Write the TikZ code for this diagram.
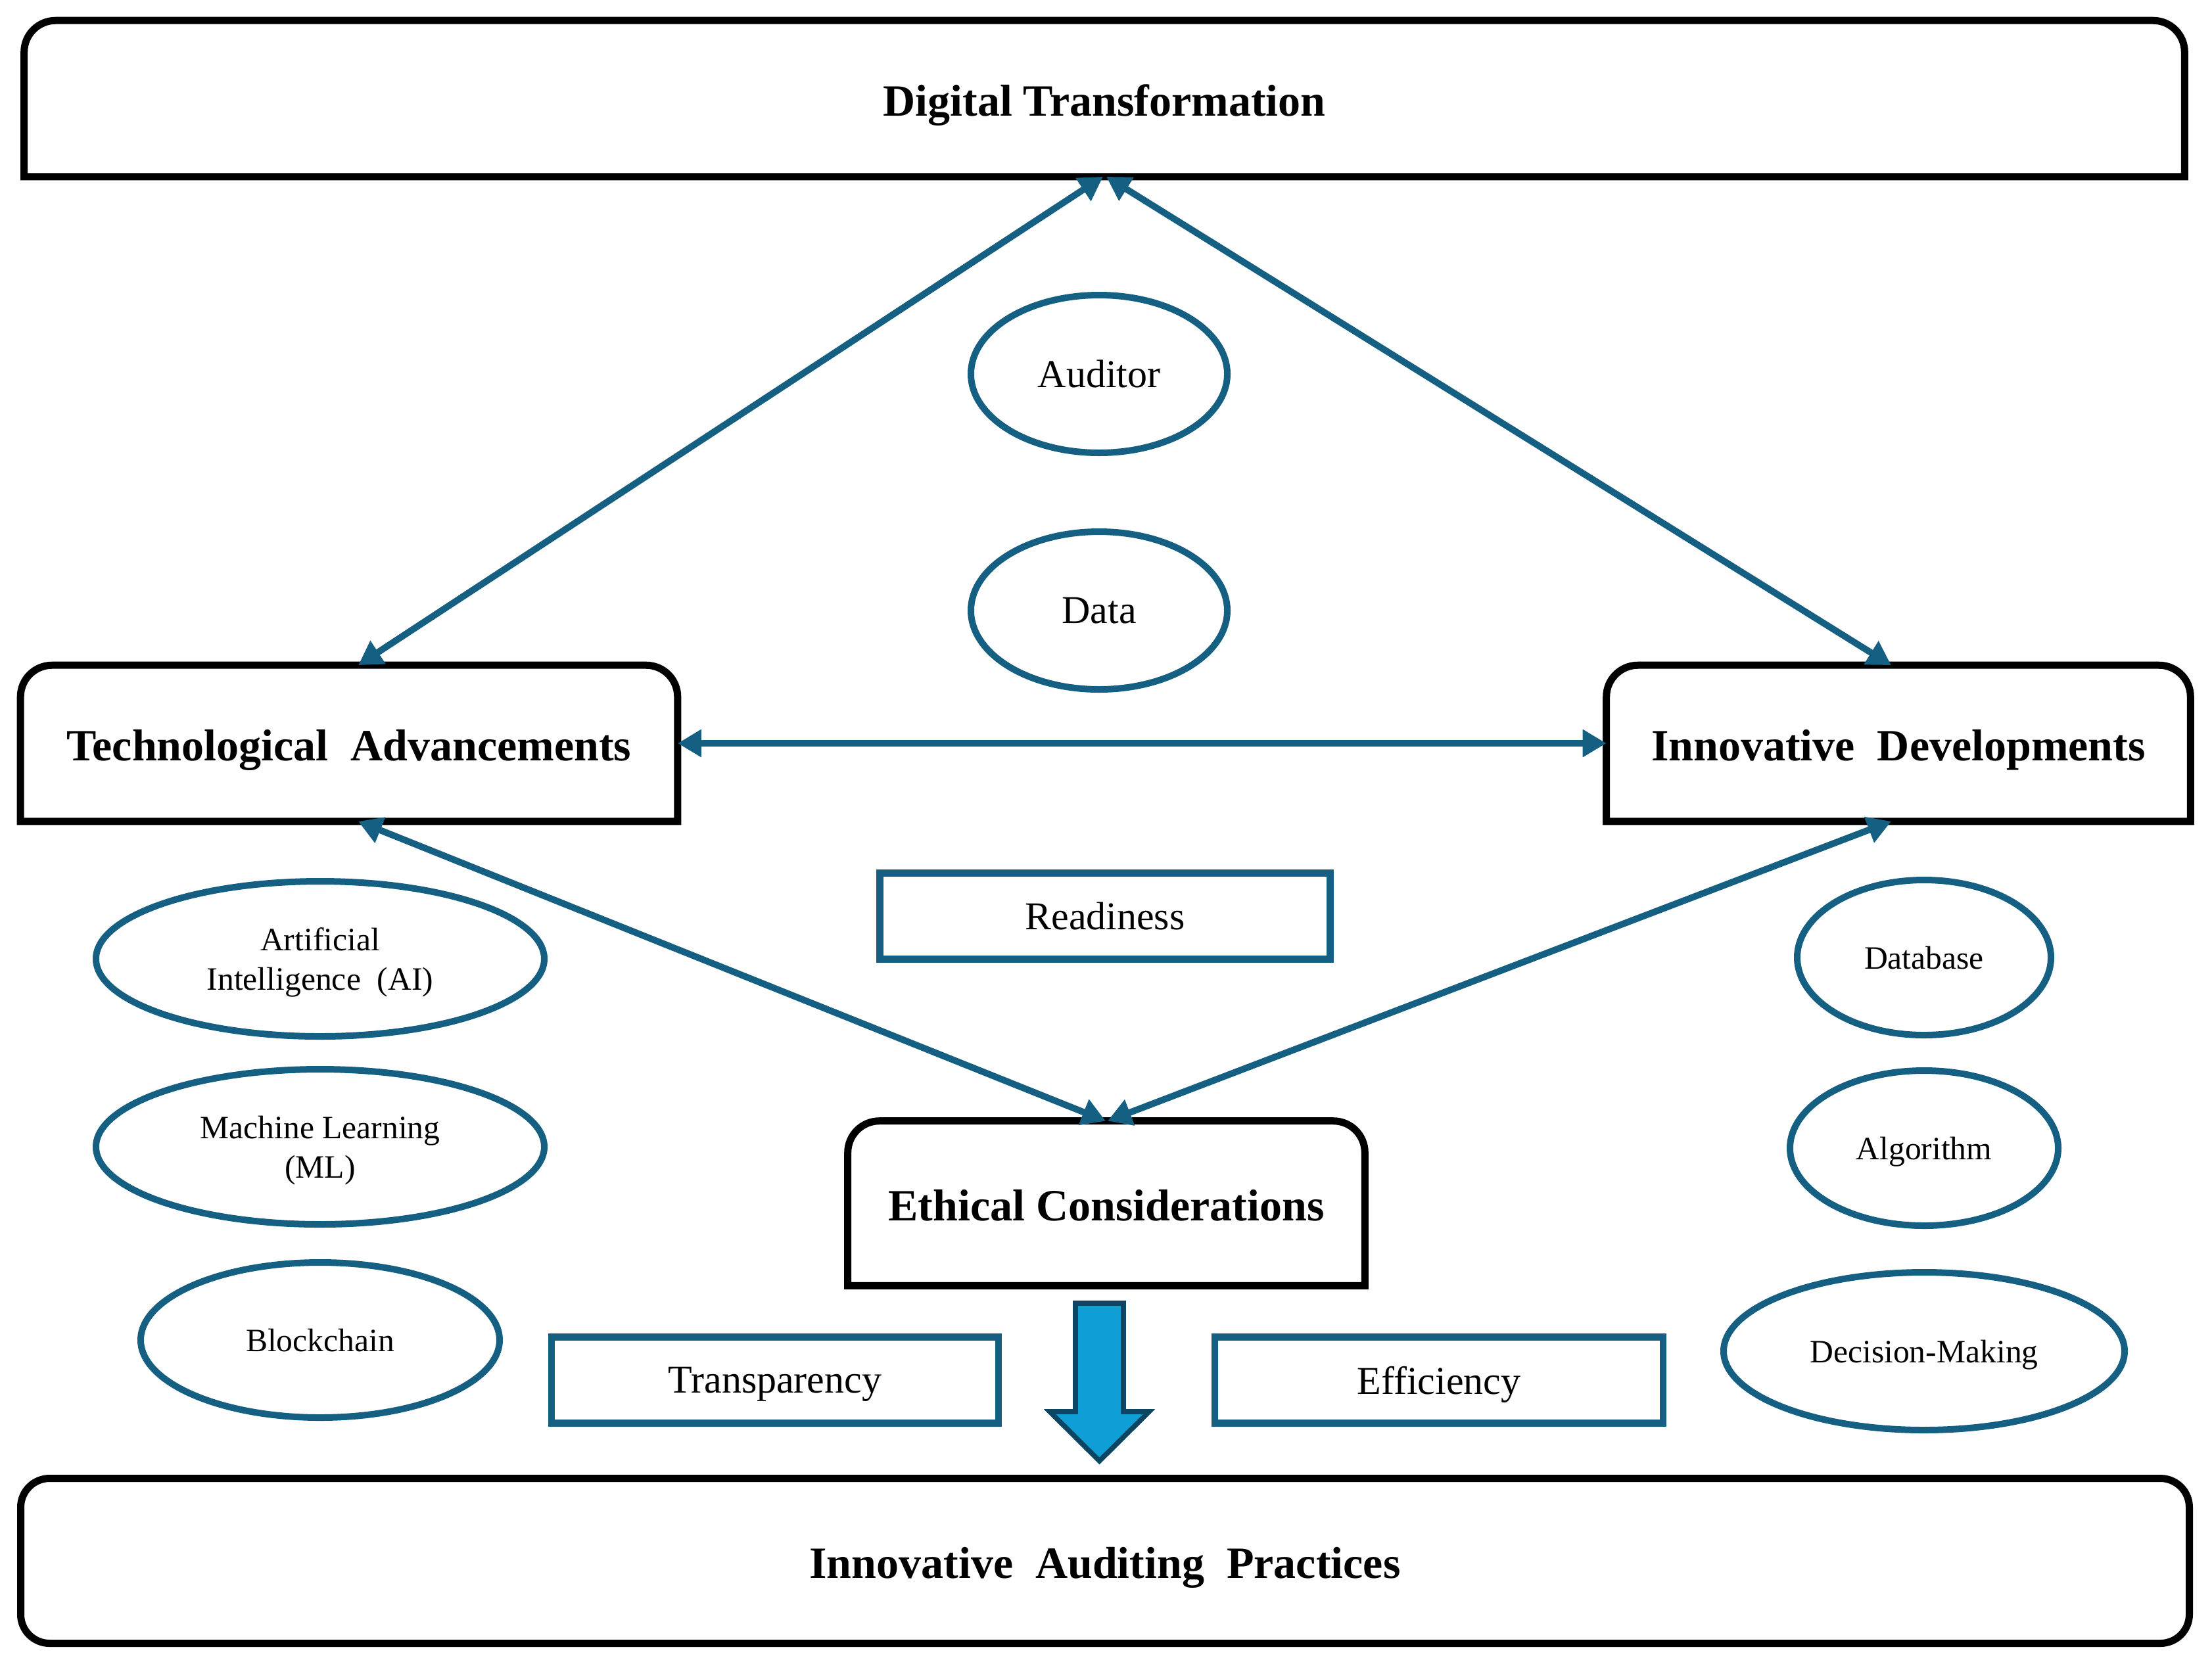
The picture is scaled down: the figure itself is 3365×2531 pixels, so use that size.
\documentclass[tikz,border=0pt]{standalone}
\usepackage{fontspec}
\setmainfont{Liberation Serif}
\usetikzlibrary{shapes.geometric,arrows.meta}
\definecolor{linkblue}{HTML}{156082}
\definecolor{arrowfill}{HTML}{0F9ED5}
\definecolor{arrowedge}{HTML}{0B4561}
\tikzset{
  hdrbox/.style={rectangle, draw=none, inner sep=0pt, text height=13pt, text depth=0pt, font=\fontsize{17}{20}\selectfont\bfseries},
  boxline/.style={draw=black, line width=2.75pt, line join=miter},
  oval/.style={ellipse, draw=linkblue, line width=2.5pt, inner sep=0pt, align=center, font=\fontsize{15}{18}\selectfont},
  smalloval/.style={oval, text depth=0pt, font=\fontsize{12.4}{15}\selectfont},
  tagbox/.style={rectangle, draw=linkblue, line width=2.6pt, inner sep=0pt, text depth=0pt, minimum height=32.75pt, minimum width=170.5pt, font=\fontsize{15}{18}\selectfont},
  conn/.style={draw=linkblue, line width=2.5pt, arrows={Triangle[length=9pt,width=10pt]-Triangle[length=9pt,width=10pt]}},
}
\newcommand\drawtopround[1]{%
  \draw[boxline] (#1.south west) -- ([yshift=-12pt]#1.north west)
    arc[start angle=180,end angle=90,radius=12pt]
    -- ([xshift=-12pt]#1.north east)
    arc[start angle=90,end angle=0,radius=12pt]
    -- (#1.south east) -- cycle;}
\begin{document}
\begin{tikzpicture}[x=0.25pt,y=-0.25pt]
\useasboundingbox (0,0) rectangle (3365,2531);

% main boxes
\node[hdrbox, minimum width=821.25pt, minimum height=59pt] (dt) at (1680,150) {Digital Transformation};
\node[hdrbox, minimum width=249.5pt, minimum height=59pt] (ta) at (531,1131) {Technological\ \ Advancements};
\node[hdrbox, minimum width=221.75pt, minimum height=59pt] (id) at (2888,1131) {Innovative\ \ Developments};
\node[hdrbox, minimum width=196.25pt, minimum height=62.25pt] (ec) at (1683,1831) {Ethical Considerations};
\node[hdrbox, draw=black, line width=2.75pt, rounded corners=11pt, minimum width=824.75pt, minimum height=62.75pt] (iap) at (1681,2375) {Innovative\ \ Auditing\ \ Practices};
\drawtopround{dt}
\drawtopround{ta}
\drawtopround{id}
\drawtopround{ec}

% centre ovals
\node[oval, minimum width=97.5pt, minimum height=60pt] (auditor) at (1672,569) {Auditor};
\node[oval, minimum width=97.5pt, minimum height=60pt] (data) at (1672,929) {Data};

% left ovals
\node[smalloval, minimum width=170.5pt, minimum height=59pt] (ai) at (487,1459) {Artificial\\Intelligence\ \ (AI)};
\node[smalloval, minimum width=170.5pt, minimum height=59pt] (ml) at (487,1745) {Machine Learning\\(ML)};
\node[smalloval, minimum width=136.5pt, minimum height=59pt] (bc) at (487,2039) {Blockchain};

% right ovals
\node[smalloval, minimum width=96.5pt, minimum height=59pt] (db) at (2927,1457) {Database};
\node[smalloval, minimum width=102pt, minimum height=59pt] (alg) at (2927,1747) {Algorithm};
\node[smalloval, minimum width=152.5pt, minimum height=60pt] (dm) at (2927,2056) {Decision-Making};

% tag boxes
\node[tagbox, minimum width=171.25pt] (ready) at (1681,1394) {Readiness};
\node[tagbox, minimum width=170pt] (transp) at (1179,2100) {Transparency};
\node[tagbox, minimum width=170.5pt] (effic) at (2189,2100) {Efficiency};

% connectors
\draw[conn] ([xshift=-0.5pt]dt.south) -- ([xshift=3.5pt]ta.north);
\draw[conn] ([xshift=0.75pt]dt.south) -- ([xshift=-2.75pt]id.north);
\draw[conn] (ta.east) -- (id.west);
\draw[conn] ([xshift=3.5pt]ta.south) -- ([xshift=-0.25pt]ec.north);
\draw[conn] ([xshift=-2.75pt]id.south) -- ([xshift=0.5pt]ec.north);

% block arrow
\draw[line width=1.9pt, draw=arrowedge, fill=arrowfill, line join=miter]
  (1636,1983) -- (1709,1983) -- (1709,2148) -- (1748,2148) -- (1672.5,2223)
  -- (1597,2148) -- (1636,2148) -- cycle;
\end{tikzpicture}
\end{document}
